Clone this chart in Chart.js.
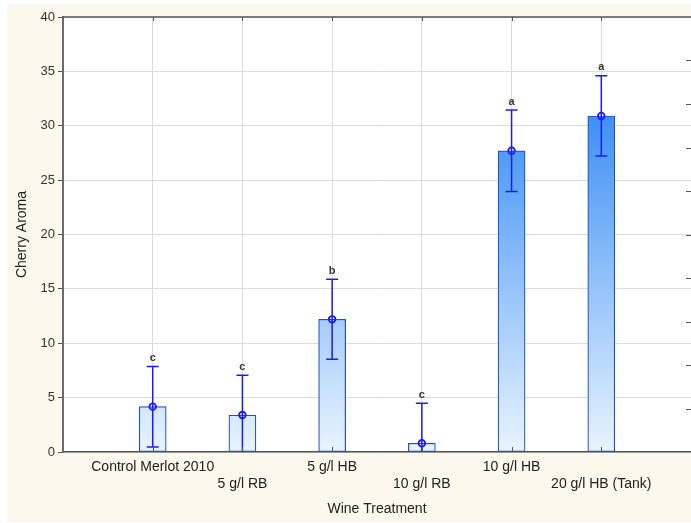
<!DOCTYPE html>
<html>
<head>
<meta charset="utf-8">
<script src="https://cdn.jsdelivr.net/npm/chart.js@4/dist/chart.umd.min.js"></script>
<style>
  html, body { margin: 0; padding: 0; background: #ffffff; }
  #wrap { position: absolute; left: 7px; top: 4px; width: 684px; height: 518px; }
</style>
</head>
<body>
<div id="wrap"><canvas id="chart" width="684" height="518"></canvas></div>
<script>
// Treatments on the x axis
const treatments = ['Control Merlot 2010', '5 g/l RB', '5 g/l HB', '10 g/l RB', '10 g/l HB', '20 g/l HB (Tank)'];
// Mean cherry aroma score per treatment
const meanAroma = [4.17, 3.40, 12.2, 0.8, 27.7, 30.9];
// Lower / upper whisker of each error bar
const errLow  = [0.47, -0.25, 8.52, -2.88, 23.95, 27.22];
const errHigh = [7.87, 7.05, 15.88, 4.48, 31.45, 34.6];
// Significance group letters printed above the whiskers
const groupLetters = ['c', 'c', 'b', 'c', 'a', 'a'];
// Inner tick marks along the right edge of the plot frame
const rightTicks = [4, 8, 12, 16, 20, 24, 28, 32, 36];

const FONT = 'Liberation Sans, Arial, sans-serif';
const labels = [''].concat(treatments, ['']);
const barValues = [null].concat(meanAroma, [null]);

function barGradient(context) {
  const chart = context.chart;
  const a = chart.chartArea;
  if (!a) return '#cfe4fc';
  const g = chart.ctx.createLinearGradient(0, a.bottom, 0, a.top);
  g.addColorStop(0, '#e9f4ff');
  g.addColorStop(0.775, '#3d90f4');
  g.addColorStop(1, '#1f7bef');
  return g;
}

const framePlugin = {
  id: 'frame',
  beforeDraw(chart) {
    const { ctx, chartArea: a } = chart;
    ctx.save();
    ctx.fillStyle = '#fdf8ed';
    ctx.fillRect(0, 0, chart.width, chart.height);
    ctx.fillStyle = '#ffffff';
    ctx.fillRect(a.left, a.top, a.right - a.left, a.bottom - a.top);
    ctx.restore();
  },
  afterDraw(chart) {
    const { ctx, chartArea: a } = chart;
    const y = chart.scales.y, x = chart.scales.x;
    ctx.save();
    ctx.strokeStyle = '#555555';
    ctx.lineWidth = 1.5;
    ctx.beginPath();
    ctx.moveTo(a.left, a.top);
    ctx.lineTo(a.right, a.top);
    ctx.stroke();
    ctx.lineWidth = 1;
    ctx.beginPath();
    rightTicks.forEach(v => {
      const py = Math.round(y.getPixelForValue(v)) + 0.5;
      ctx.moveTo(a.right - 5, py);
      ctx.lineTo(a.right, py);
    });
    treatments.forEach((_, i) => {
      const px = Math.round(x.getPixelForValue(i + 1)) + 0.5;
      ctx.moveTo(px, a.top);
      ctx.lineTo(px, a.top + 4);
      ctx.moveTo(px, a.bottom);
      ctx.lineTo(px, a.bottom - 5);
    });
    ctx.stroke();
    ctx.restore();
  }
};

const errorBarPlugin = {
  id: 'errorBars',
  afterDatasetsDraw(chart) {
    const { ctx, chartArea: a } = chart;
    const meta = chart.getDatasetMeta(0);
    const y = chart.scales.y;
    ctx.save();
    ctx.beginPath();
    ctx.rect(a.left, a.top, a.right - a.left, a.bottom - a.top);
    ctx.clip();
    ctx.strokeStyle = '#1a1aff';
    treatments.forEach((_, i) => {
      const px = meta.data[i + 1].x;
      const yl = y.getPixelForValue(errLow[i]);
      const yh = y.getPixelForValue(errHigh[i]);
      const ym = y.getPixelForValue(meanAroma[i]);
      ctx.lineWidth = 1.5;
      ctx.beginPath();
      ctx.moveTo(px, yl); ctx.lineTo(px, yh);
      ctx.moveTo(px - 6, yh); ctx.lineTo(px + 6, yh);
      ctx.moveTo(px - 6, yl); ctx.lineTo(px + 6, yl);
      ctx.stroke();
      ctx.lineWidth = 1.8;
      ctx.beginPath();
      ctx.arc(px, ym, 3.3, 0, Math.PI * 2);
      ctx.stroke();
      ctx.fillStyle = '#333333';
      ctx.font = 'bold 11px ' + FONT;
      ctx.textAlign = 'center';
      ctx.textBaseline = 'bottom';
      ctx.fillText(groupLetters[i], px, yh - 3);
    });
    ctx.restore();
  }
};

new Chart(document.getElementById('chart'), {
  type: 'bar',
  data: {
    labels: labels,
    datasets: [{
      data: barValues,
      backgroundColor: barGradient,
      borderColor: '#1f4fd0',
      borderWidth: 1.2,
      borderSkipped: false,
      barThickness: 27
    }]
  },
  options: {
    responsive: false,
    animation: false,
    devicePixelRatio: 1,
    layout: { padding: { top: 13, right: 0, left: 0, bottom: 0 } },
    plugins: { legend: { display: false }, tooltip: { enabled: false } },
    scales: {
      x: {
        type: 'category',
        offset: false,
        grid: { color: '#dddddd', lineWidth: 1, drawTicks: false, offset: false },
        border: { color: '#555555', width: 1.5 },
        ticks: {
          autoSkip: false,
          maxRotation: 0,
          minRotation: 0,
          padding: 7,
          color: '#222222',
          font: { family: FONT, size: 14, lineHeight: 1.2 },
          callback: function (v, i) {
            const t = labels[i];
            if (!t) return '';
            return (i % 2 === 1) ? [t] : ['', t];
          }
        },
        title: {
          display: true,
          text: 'Wine Treatment',
          color: '#222222',
          font: { family: FONT, size: 14, lineHeight: 1.2 },
          padding: { top: 0, bottom: 4.6 }
        },
        afterFit(scale) {
          scale.height = 70;
          scale.paddingLeft = 0;
          scale.paddingRight = 0;
        }
      },
      y: {
        min: 0,
        max: 40,
        ticks: {
          stepSize: 5,
          padding: 3,
          color: '#333333',
          font: { family: FONT, size: 13 }
        },
        grid: { color: '#dddddd', lineWidth: 1, tickLength: 5, tickColor: '#555555' },
        border: { color: '#6a6a6a', width: 2 },
        title: {
          display: true,
          text: 'Cherry Aroma',
          color: '#222222',
          font: { family: FONT, size: 14, lineHeight: 1.2 },
          padding: { top: 6.6, bottom: 0 }
        },
        afterFit(scale) { scale.width = 56; }
      }
    }
  },
  plugins: [framePlugin, errorBarPlugin]
});
</script>
</body>
</html>
